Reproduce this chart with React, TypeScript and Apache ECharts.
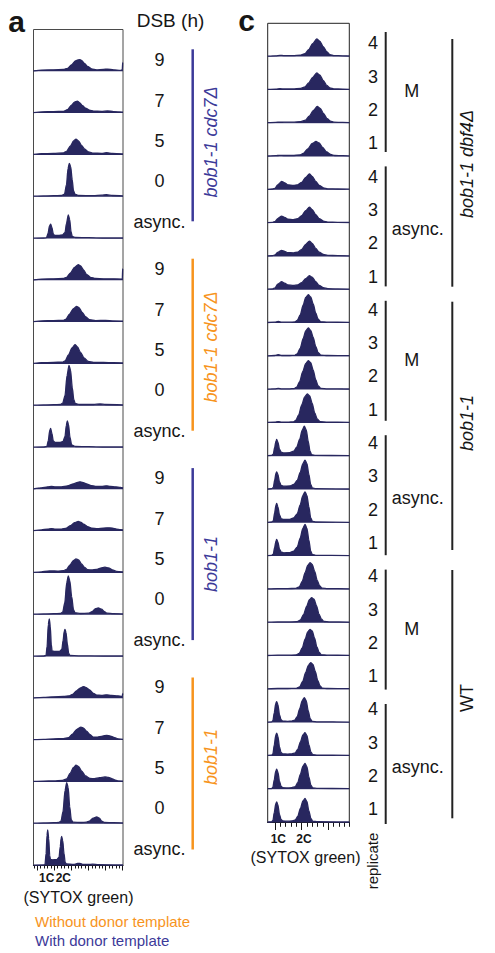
import React, { useEffect, useRef } from "react";
import * as echarts from "echarts";

// ---------------- DATA (x = SYTOX green channel position, y = cell count, px-scaled) ----------------
// Panel a: bob1-1 cdc7Δ, with donor template
const a_cdc7_donor_9 = [[0,0.5],[8,1.2],[20,1.5],[30,1.8],[34,3],[38,6.5],[42,10.5],[45.8,11.7],[48,11],[51,8],[54,5],[58,2.5],[63,1.5],[70,2],[74,2.2],[80,1.5],[87,1],[88.8,1.5],[89.2,9],[89.5,9]];
const a_cdc7_donor_7 = [[0,0.5],[8,1.2],[20,1.5],[30,1.8],[34,3.5],[38,8],[41,11],[43.8,12],[46,10.5],[49,7.5],[52,5],[56,3],[60,2],[68,1.8],[74,2.2],[80,1.5],[89.5,1]];
const a_cdc7_donor_5 = [[0,0.5],[8,1.2],[20,1.5],[30,2],[33,3.5],[37,9],[40,14],[42.5,15.7],[45,14],[48,9.5],[51,6],[55,3],[60,1.8],[68,1.5],[73,2.2],[79,1.5],[89.5,1]];
const a_cdc7_donor_0 = [[0,0.5],[10,0.8],[20,1],[28,1.2],[31,2.5],[33,12],[34.5,28],[35.8,33.3],[37.2,30],[38.7,17],[40,6],[41.5,2.5],[45,1.2],[60,1],[68,1.5],[73,2],[79,1.2],[89.5,0.8]];
const a_cdc7_donor_async = [[0,0.3],[10,0.5],[13,0.8],[14.5,5],[16,12.5],[17.2,14.3],[18.4,11],[19.8,4.5],[21,3.2],[25,3],[29,3.5],[31.5,6],[33,15],[34.8,23.7],[36.2,19],[37.5,7],[38.8,2],[42,1],[55,0.8],[70,0.5],[89.5,0.5]];
// Panel a: bob1-1 cdc7Δ, without donor template
const a_cdc7_nodonor_9 = [[0,0.5],[8,1.2],[20,1.5],[30,1.8],[33,3],[37,7.5],[41,13],[44.8,15.7],[47,14.5],[50,10.5],[53,6],[57,3],[62,1.8],[70,1.5],[78,1.5],[88.8,1.2],[89.2,12],[89.5,12]];
const a_cdc7_nodonor_7 = [[0,0.5],[8,1.2],[20,1.5],[30,1.8],[32.5,3],[36,8],[40,13.5],[43.2,15.7],[45.5,14.5],[48.5,10],[52,5.5],[56,2.5],[62,1.5],[72,1.8],[80,1.2],[89.5,1]];
const a_cdc7_nodonor_5 = [[0,0.5],[8,1.2],[20,1.5],[29,1.8],[31.5,3],[35,9],[38.5,16],[41.5,19.3],[44,17],[47,11.5],[50.5,6],[54.8,2.5],[60,1.5],[70,1.5],[80,1.2],[89.5,1]];
const a_cdc7_nodonor_0 = [[0,0.5],[10,0.8],[20,1],[27,1.2],[29.2,2.5],[31.5,10],[33.5,30],[35.5,40.3],[37,36],[38.8,18],[40.3,6],[41.8,2.2],[46,1.2],[60,1.2],[66.5,1.8],[72,1.2],[89.5,0.8]];
const a_cdc7_nodonor_async = [[0,0.3],[10,0.5],[13.3,1],[14.8,7],[16.2,17],[17.2,19],[18.4,14],[19.8,6.5],[21.5,5],[26,5],[29.5,6],[31.5,11],[32.8,22],[33.8,26.7],[35,23],[36.5,10],[38.2,2.5],[42,1],[55,0.8],[70,0.5],[89.5,0.5]];
// Panel a: bob1-1, with donor template
const a_bob_donor_9 = [[0,0.5],[8,1.5],[14,2.5],[18,3],[22,2.5],[28,2.5],[34,3.5],[40,5.5],[44,6.8],[46.5,7.5],[49,7],[53,5.5],[57,4],[62,3],[68,3],[73,3.5],[77,3],[82,2.5],[87,2],[89.5,1.5]];
const a_bob_donor_7 = [[0,0.5],[8,1.2],[14,2],[18,2.5],[22,2],[28,2],[33,3],[37,5.5],[41,8.5],[44.8,9.7],[47,9],[50,7],[54,4.5],[58,3],[64,2.5],[70,3],[74.8,3.3],[79,3],[83,2],[87,1.5],[89.5,1.2]];
const a_bob_donor_5 = [[0,0.5],[8,1],[14,1.8],[18,2],[24,1.8],[30,2.2],[33,3.5],[36.5,8],[40,12.5],[42.5,14],[45,13],[48,9],[51,5.5],[54,3.2],[58,3],[63,3.5],[67,4.8],[71.5,5.7],[75,5],[79,3],[83,1.5],[89.5,1]];
const a_bob_donor_0 = [[0,0.5],[10,0.8],[20,1],[27,1.2],[29.2,2.5],[31.3,12],[33.2,32],[34.8,38.7],[36.3,34],[38.2,18],[40,5],[41.5,2],[47,1.2],[55,1.5],[58.5,3],[62,6],[64.8,6.7],[68,5.5],[71,3],[73.5,1.5],[80,1],[89.5,0.8]];
const a_bob_donor_async = [[0,0.3],[10,0.5],[12.5,1],[13.6,10],[14.8,32],[15.8,37.7],[16.8,30],[17.8,12],[18.6,5.5],[21,5],[26,5.2],[28.3,7],[29.6,16],[30.7,25],[31.5,27],[32.5,24],[33.8,13],[35.2,3],[36.5,1],[45,0.7],[70,0.5],[89.5,0.5]];
// Panel a: bob1-1, without donor template
const a_bob_nodonor_9 = [[0,0.5],[10,1],[20,1.5],[30,1.8],[36,2.5],[39,4],[43,7.5],[47,10.5],[49.8,11.7],[52,11],[56,8.5],[60,5],[63.2,3.2],[68,3],[73,3.5],[78,3],[84,2.5],[88.8,2],[89.2,5],[89.5,5]];
const a_bob_nodonor_7 = [[0,0.5],[10,0.8],[20,1.2],[30,1.5],[35,2.5],[39,6],[43,10.5],[47.5,13],[50,12],[53,9],[56.5,5.5],[59.8,3],[64,3],[69,4],[73.2,4.7],[77,4],[81,2.5],[85,1.2],[89.5,0.8]];
const a_bob_nodonor_5 = [[0,0.5],[10,0.8],[20,1],[29,1.5],[33.2,3],[36.5,8.5],[40,14.5],[42.5,16.7],[45,15.5],[48,11],[52,6],[56.5,3.5],[61,3.2],[66,4.2],[71.5,5],[75,4.5],[79,3],[82,1.8],[84.8,1],[89.5,0.8]];
const a_bob_nodonor_0 = [[0,0.5],[10,0.8],[20,1],[25.5,1.2],[27.5,2.5],[29.5,12],[31.5,33],[33.2,41],[34.7,36],[36.2,17],[37.8,4],[39.5,1.5],[48,1.2],[53,1.5],[55.8,2.5],[59.5,5.5],[63.2,6.7],[66,5.5],[68.2,2.5],[71,1.2],[80,1],[89.5,0.8]];
const a_bob_nodonor_async = [[0,0.3],[10,0.5],[11.5,1],[12.6,12],[13.5,30],[14.2,35.7],[15.2,27],[16.2,10],[17,6],[19,5.7],[23,5.8],[25.5,8],[26.8,19],[27.6,27],[28.2,29],[29.2,25],[30.5,12],[31.7,3],[33,1.5],[40,1],[44,2],[46.5,2.2],[49,1.2],[55,1],[59,1.3],[65,0.8],[89.5,0.5]];

// Panel c: bob1-1 dbf4Δ
const c_dbf4_M_4 = [[0,0.5],[8,0.8],[12.3,1.3],[16,1],[25,1],[33,1.5],[37.3,3],[41,7],[45,13],[49,17.7],[52,15.5],[55.5,10],[59,5],[62.3,2],[66,1],[75,0.8],[81.6,0.6]];
const c_dbf4_M_3 = [[0,0.5],[8,0.8],[12.3,1.2],[16,1],[25,1],[33,1.5],[37.3,3],[41,7],[45,12.5],[49,17],[52,15],[55.5,9.5],[59,4.5],[62.3,2],[66,1],[75,0.8],[81.6,0.6]];
const c_dbf4_M_2 = [[0,0.5],[8,0.8],[12.3,1.1],[16,1],[25,1],[33,1.5],[37.8,3],[41.5,7],[45.5,12.5],[49.6,16.7],[52.5,14.8],[56,9.5],[59.5,4.5],[62.8,2],[66,1],[75,0.8],[81.6,0.6]];
const c_dbf4_M_1 = [[0,0.5],[8,0.8],[12,1.2],[16,1],[25,1],[32,1.5],[35.6,3],[40,7.5],[44.5,13],[48.3,15],[51.5,13.5],[55,9],[59,4.5],[63,2],[67,1],[75,0.8],[81.6,0.6]];
const c_dbf4_async_4 = [[0,0.5],[5,0.8],[7.3,1.5],[10,5],[14,8.3],[17,7],[20,5],[25.7,4.3],[30,5],[34,7.5],[38,12.5],[41.7,16],[44.5,13.5],[48,8.5],[51.5,4.5],[55.7,2],[60,1],[70,0.8],[81.6,0.6]];
const c_dbf4_async_3 = [[0,0.5],[5,0.8],[7.3,1.5],[10,4.5],[14,7],[17,5.8],[20,4],[25.7,3.5],[30,4.5],[34,7.5],[38,12.5],[41.7,16],[44.5,13.5],[48,8.5],[51.5,4.5],[55.7,2],[60,1],[70,0.8],[81.6,0.6]];
const c_dbf4_async_2 = [[0,0.5],[5,0.8],[7.3,1.5],[10,4],[14,6],[17,5],[20,3.8],[25.7,3.5],[30,4.3],[34,7],[38,12],[41.7,15.3],[44.5,13],[48,8],[51.5,4.2],[55.7,2],[60,1],[70,0.8],[81.6,0.6]];
const c_dbf4_async_1 = [[0,0.5],[5,0.8],[7.3,1.8],[10,5.5],[14,8],[17,6.5],[20,4.8],[25.7,4.2],[30,4.8],[34,7],[38,11],[41.7,14],[44.5,12.5],[48,8],[51.5,4.2],[55.7,2],[60,1],[70,0.8],[81.6,0.6]];
// Panel c: bob1-1
const c_bob_M_4 = [[0,0.5],[7,0.8],[10.6,1.5],[14,0.8],[22,0.8],[27,1],[29.5,2.5],[32.5,8],[35.5,18],[38,25.5],[40.6,28.3],[43,26],[45.5,19],[48,10],[50.3,4],[53,1.2],[60,0.8],[81.6,0.6]];
const c_bob_M_3 = [[0,0.5],[7,0.8],[10.6,1.7],[14,0.8],[22,0.8],[27,1],[29.5,2.5],[32.5,8],[35.5,18],[38,25.5],[40.6,28.3],[43,26],[45.5,19],[48,10],[50.3,4],[53,1.2],[60,0.8],[81.6,0.6]];
const c_bob_M_2 = [[0,0.5],[7,0.8],[10.6,1.3],[14,0.8],[22,0.8],[26.5,1],[29,2.5],[32,8],[35,18],[38,26],[40.6,29],[43,27],[45.5,19.5],[48,10],[50.3,4],[53,1.2],[60,0.8],[81.6,0.6]];
const c_bob_M_1 = [[0,0.5],[7,0.8],[10.6,1.3],[14,0.8],[21,0.8],[25.5,1],[28,2.5],[31,8],[34,18],[37,26],[39.6,29],[42,27],[44.5,19.5],[47,10],[49.5,4],[52.5,1.2],[60,0.8],[81.6,0.6]];
const c_bob_async_4 = [[0,0.5],[4,0.8],[5.6,2],[7,9],[8.2,15],[9,16.7],[10.2,14],[11.8,7],[13.5,4],[16,3.3],[22,3.5],[26,5],[29,9],[32,17],[34.5,26],[36.6,30],[38.5,26.5],[40.5,15],[42.3,5],[44,1.5],[48,0.8],[81.6,0.5]];
const c_bob_async_3 = [[0,0.5],[4,0.8],[5.6,2],[7,9.5],[8.2,16],[9,17.7],[10.2,15],[11.8,7.5],[13.5,4],[16,3.3],[22,3.5],[26,5],[29.5,9],[32.5,17],[35,25.5],[37.3,29.3],[39.2,26],[41.2,15],[43,5],[44.7,1.5],[48,0.8],[81.6,0.5]];
const c_bob_async_2 = [[0,0.5],[4,0.8],[5.6,2],[7,10.5],[8.2,17.5],[9,19.3],[10.2,16],[11.8,8],[13.5,4],[16,3.3],[22,3.5],[26,5],[29.5,9],[32.5,18],[35,27],[37.3,31],[39.2,27.5],[41.2,16],[43,5],[44.7,1.5],[48,0.8],[81.6,0.5]];
const c_bob_async_1 = [[0,0.5],[4,0.8],[5.6,2],[7,9],[8.2,15],[9,16.7],[10.2,14],[11.8,7],[13.5,4],[16,3.3],[22,3.5],[26,5],[29.5,9],[32.5,18],[35,27.5],[37.3,31.7],[39.2,28],[41.2,16],[43,5],[44.7,1.5],[48,0.8],[81.6,0.5]];
// Panel c: WT
const c_wt_M_4 = [[0,0.5],[10,0.8],[20,0.8],[28,1],[31.5,2.5],[34.5,8],[37.5,17],[40,24],[42.3,26.7],[44.5,25],[47,18],[49.5,9],[52,3.5],[54.5,1.2],[60,0.8],[81.6,0.6]];
const c_wt_M_3 = [[0,0.5],[10,0.8],[20,0.8],[29,1],[32.5,2.5],[35.8,8],[39,16.5],[41.7,23],[44,25],[46.3,23.5],[48.8,17],[51.3,8.5],[53.8,3.5],[56.3,1.2],[62,0.8],[81.6,0.6]];
const c_wt_M_2 = [[0,0.5],[10,0.8],[20,0.8],[28,1],[31.5,2.5],[34.5,8],[37.5,17],[40,24],[42.3,26.7],[44.5,25],[46.8,18],[49.2,9],[51.5,3.5],[53.7,1.2],[60,0.8],[81.6,0.6]];
const c_wt_M_1 = [[0,0.5],[10,0.8],[20,0.8],[28.5,1],[32,2.5],[35,8],[38,17],[40.7,24],[43,26.7],[45.2,25],[47.6,18],[50,9],[52.3,3.5],[54.5,1.2],[60,0.8],[81.6,0.6]];
const c_wt_async_4 = [[0,0.5],[4,0.7],[5.2,2],[6.6,10],[8,19],[9,21],[10.2,18],[11.8,8],[13.3,3],[15,1.5],[20,1.3],[24,1.5],[27,2.5],[29.5,6],[32,14],[34.5,22],[36.6,25],[38.5,22],[40.5,12],[42.5,4],[44.5,1.2],[50,0.8],[81.6,0.5]];
const c_wt_async_3 = [[0,0.5],[4,0.7],[5.2,2],[6.6,11],[8,20.5],[9,22.7],[10.2,19.5],[11.8,9],[13.3,3.5],[15,2],[20,1.8],[24,2],[27.5,3],[30,6.5],[32.7,14],[35.2,21],[37.3,23.3],[39.2,20.5],[41.2,11],[43.2,4],[45,1.2],[50,0.8],[81.6,0.5]];
const c_wt_async_2 = [[0,0.5],[4,0.7],[5.2,2],[6.6,9.5],[8,18],[9,20],[10.2,17],[11.8,8],[13.3,3],[15,1.5],[20,1.3],[24,1.5],[27.5,2.5],[30,6.5],[32.7,15],[35.2,23],[37.3,25.7],[39.2,22.5],[41.2,12],[43.2,4],[45,1.2],[50,0.8],[81.6,0.5]];
const c_wt_async_1 = [[0,0.5],[4,0.7],[5.2,2],[6.6,10],[8,18.5],[9,20.7],[10.2,17.5],[11.8,8],[13.3,3],[15,1.5],[20,1.3],[24,1.5],[27.5,2.5],[30,6],[32.7,14],[35.2,21.5],[37.3,24],[39.2,21],[41.2,11.5],[43.2,4],[45,1.2],[50,0.8],[81.6,0.5]];

// Labels
const timeLabelsA = ["9", "7", "5", "0", "async."];
const strainLabelsA = ["bob1-1 cdc7Δ", "bob1-1 cdc7Δ", "bob1-1", "bob1-1"];
const donorA = [true, false, true, false];
const replicateLabelsC = ["4", "3", "2", "1"];
const conditionLabelsC = ["M", "async."];
const strainLabelsC = ["bob1-1 dbf4Δ", "bob1-1", "WT"];
const ploidyLabels = ["1C", "2C"];

const panelARows = [
  a_cdc7_donor_9, a_cdc7_donor_7, a_cdc7_donor_5, a_cdc7_donor_0, a_cdc7_donor_async,
  a_cdc7_nodonor_9, a_cdc7_nodonor_7, a_cdc7_nodonor_5, a_cdc7_nodonor_0, a_cdc7_nodonor_async,
  a_bob_donor_9, a_bob_donor_7, a_bob_donor_5, a_bob_donor_0, a_bob_donor_async,
  a_bob_nodonor_9, a_bob_nodonor_7, a_bob_nodonor_5, a_bob_nodonor_0, a_bob_nodonor_async,
];
const panelCRows = [
  c_dbf4_M_4, c_dbf4_M_3, c_dbf4_M_2, c_dbf4_M_1,
  c_dbf4_async_4, c_dbf4_async_3, c_dbf4_async_2, c_dbf4_async_1,
  c_bob_M_4, c_bob_M_3, c_bob_M_2, c_bob_M_1,
  c_bob_async_4, c_bob_async_3, c_bob_async_2, c_bob_async_1,
  c_wt_M_4, c_wt_M_3, c_wt_M_2, c_wt_M_1,
  c_wt_async_4, c_wt_async_3, c_wt_async_2, c_wt_async_1,
];

// ---------------- LAYOUT ----------------
const NAVY = "#28275f";
const PURPLE = "#3c3a99";
const ORANGE = "#f7941d";
const INK = "#161616";
const FONT = '"Liberation Sans", Arial, Helvetica, sans-serif';

const A = { left: 33.5, top: 29.5, w: 89.5, rowH: 41.8 };
const C = { left: 267.7, top: 23.3, w: 81.6, rowH: 33.3 };

function txt(x: number, y: number, s: string, size: number, o: any = {}) {
  return {
    type: "text",
    x,
    y,
    rotation: o.rot || 0,
    silent: true,
    style: {
      text: s,
      x: 0,
      y: 0,
      font: `${o.italic ? "italic " : ""}${o.bold ? "bold " : ""}${size}px ${FONT}`,
      fill: o.color || INK,
      textAlign: o.align || "center",
      textVerticalAlign: "middle",
    },
  };
}
function vline(x: number, y1: number, y2: number, color: string, w: number) {
  return { type: "line", silent: true, shape: { x1: x, y1, x2: x, y2 }, style: { stroke: color, lineWidth: w } };
}

function buildOption() {
  const grid: any[] = [];
  const xAxis: any[] = [];
  const yAxis: any[] = [];
  const series: any[] = [];

  const addRow = (P: any, i: number, data: number[][]) => {
    const gi = grid.length;
    grid.push({ left: P.left, top: P.top + P.rowH * i, width: P.w, height: P.rowH, show: false });
    xAxis.push({ gridIndex: gi, type: "value", min: 0, max: P.w, show: false });
    yAxis.push({ gridIndex: gi, type: "value", min: 0, max: P.rowH, show: false });
    series.push({
      type: "line",
      xAxisIndex: gi,
      yAxisIndex: gi,
      data,
      showSymbol: false,
      smooth: 0.25,
      smoothMonotone: "x",
      lineStyle: { color: NAVY, width: 1.3 },
      areaStyle: { color: NAVY, opacity: 1 },
      silent: true,
    });
  };
  panelARows.forEach((d, i) => addRow(A, i, d));
  panelCRows.forEach((d, i) => addRow(C, i, d));

  const addFrame = (P: any, n: number, border: string, majors: number[], minors: number[], lab: number[], major: number, minor: number, margin: number) => {
    const gi = grid.length;
    grid.push({ left: P.left, top: P.top, width: P.w, height: P.rowH * n, show: true, borderColor: border, borderWidth: 1, backgroundColor: "transparent" });
    const base = { gridIndex: gi, type: "value", min: 0, max: P.w, position: "bottom", splitLine: { show: false } };
    xAxis.push({ ...base, axisLine: { show: true, lineStyle: { color: INK, width: 1.2 } }, axisTick: { show: true, length: major, lineStyle: { color: INK, width: 1 }, customValues: majors }, axisLabel: { show: false } });
    xAxis.push({ ...base, axisLine: { show: false }, axisTick: { show: true, length: minor, lineStyle: { color: INK, width: 1 }, customValues: minors }, axisLabel: { show: false } });
    xAxis.push({ ...base, axisLine: { show: false }, axisTick: { show: false }, axisLabel: { show: true, customValues: lab, margin, formatter: (v: number) => (v === lab[0] ? ploidyLabels[0] : ploidyLabels[1]), color: INK, fontFamily: FONT, fontWeight: "bold", fontSize: 12 } });
    yAxis.push({ gridIndex: gi, type: "value", min: 0, max: 1, show: false });
  };
  const majA: number[] = [], minA: number[] = [];
  for (let k = 0; k <= 5; k++) majA.push(89.2 - 17.1 * k);
  for (let j = 0; 89.2 - 3.42 * j >= 0; j++) minA.push(89.2 - 3.42 * j);
  const majC: number[] = [], minC: number[] = [];
  for (let k = 0; k <= 2; k++) majC.push(7.3 + 26.65 * k);
  for (let j = 0; j <= 14; j++) minC.push(Math.min(81.4, 7.3 + 5.33 * j));
  addFrame(A, 20, "#4a4a4a", majA, minA, [13.2, 29.8], 5, 3, 6);
  addFrame(C, 24, "#222", majC, minC, [10.6, 36.3], 7.5, 4.3, 10);

  // ---------- annotations ----------
  const g: any[] = [];
  g.push(txt(16.5, 21, "a", 30, { bold: true }));
  g.push(txt(246.5, 20, "c", 30, { bold: true }));
  g.push(txt(170.5, 20, "DSB (h)", 19));

  strainLabelsA.forEach((name, gi) => {
    const color = donorA[gi] ? PURPLE : ORANGE;
    const y0 = 49.3 + 209.4 * gi;
    g.push(vline(192.7, y0, y0 + 172, color, 2.5));
    const centers = [142, 347, 564, 757];
    g.push(txt(211, centers[gi], name, 18, { italic: true, color, rot: Math.PI / 2 }));
    timeLabelsA.forEach((t, k) => {
      const r = gi * 5 + k;
      const yc = A.top + A.rowH * (r + 0.5) + 10 - 1.5 * k;
      g.push(txt(159.5, yc, t, 18));
    });
  });

  for (let gi = 0; gi < 6; gi++) {
    const y0 = 32 + 134.4 * gi;
    g.push(vline(385.7, y0, y0 + 120, "#222", 2));
    const cond = conditionLabelsC[gi % 2];
    g.push(txt(cond === "M" ? 411.7 : 417.7, y0 + 60 + (cond === "M" ? -1 : 2.5), cond, 18));
    replicateLabelsC.forEach((t, k) => {
      const r = gi * 4 + k;
      g.push(txt(373, C.top + C.rowH * (r + 0.5) + 3.5, t, 18));
    });
  }
  const outer = [[39, 286.7], [301.7, 550], [570, 818.3]];
  const outerLbl = [164, 423, 698];
  strainLabelsC.forEach((name, i) => {
    g.push(vline(452.3, outer[i][0], outer[i][1], "#222", 2));
    g.push(txt(466.7, outerLbl[i], name, 18, { italic: name !== "WT", rot: Math.PI / 2 }));
  });

  g.push(txt(78.5, 897, "(SYTOX green)", 16));
  g.push(txt(305.5, 857, "(SYTOX green)", 16));
  g.push(txt(372, 861, "replicate", 15, { rot: Math.PI / 2 }));
  g.push(txt(35, 921, "Without donor template", 15, { color: ORANGE, align: "left" }));
  g.push(txt(35, 940, "With donor template", 15, { color: PURPLE, align: "left" }));

  return {
    animation: false,
    backgroundColor: "#ffffff",
    grid,
    xAxis,
    yAxis,
    series,
    graphic: { elements: g },
  };
}

export default function App() {
  const ref = useRef<HTMLDivElement>(null);
  useEffect(() => {
    if (!ref.current) return;
    const chart = echarts.init(ref.current, undefined, { renderer: "svg" });
    chart.setOption(buildOption() as any);
    return () => chart.dispose();
  }, []);
  return <div ref={ref} style={{ position: "absolute", left: 0, top: 0, width: 495, height: 953 }} />;
}
